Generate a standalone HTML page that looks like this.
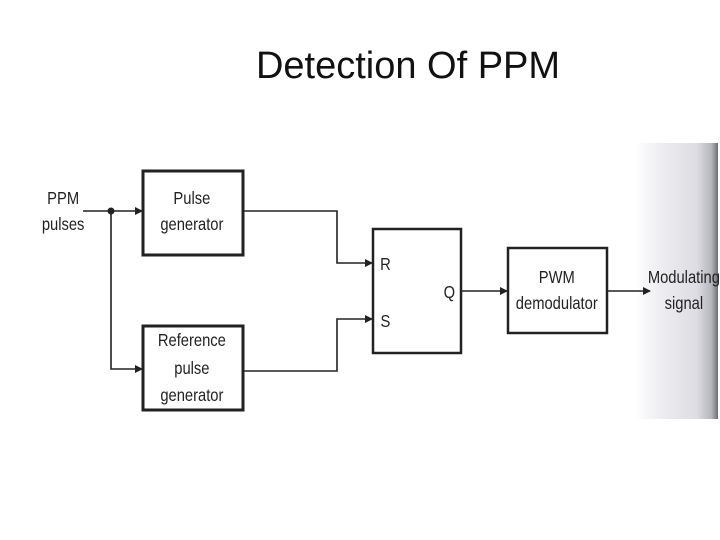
<!DOCTYPE html>
<html><head><style>
body{margin:0;width:720px;height:540px;background:#fff;overflow:hidden;position:relative;font-family:"Liberation Sans",sans-serif}
.t{position:absolute;left:0;width:816px;top:45px;text-align:center;font-size:38px;color:#111}
</style></head><body>
<div style="position:absolute;left:635px;top:143px;width:83px;height:276px;background:linear-gradient(to right,#fff 0%,#eeeef2 30%,#dcdce2 75%,#b5b5bc 92%,#77777f 99%,#666 100%)"></div>
<div class="t">Detection Of PPM</div>
<svg width="720" height="540" style="position:absolute;left:0;top:0">
<defs><marker id="a" markerWidth="8" markerHeight="8" refX="7" refY="4" orient="auto" markerUnits="userSpaceOnUse"><path d="M0,0 L8,4 L0,8z" fill="#222"/></marker></defs>
<g stroke="#222" stroke-width="1.6" fill="none">
<rect x="143" y="171" width="100" height="84" stroke-width="3"/>
<rect x="143" y="326" width="100" height="84" stroke-width="3"/>
<rect x="373" y="229" width="88" height="124" stroke-width="2.5"/>
<rect x="508" y="248" width="99" height="85" stroke-width="2.5"/>
<line x1="83" y1="211" x2="142" y2="211" marker-end="url(#a)"/>
<polyline points="111,211 111,369 142,369" marker-end="url(#a)"/>
<polyline points="243,211 337,211 337,263 372,263" marker-end="url(#a)"/>
<polyline points="243,371 337,371 337,319 372,319" marker-end="url(#a)"/>
<line x1="461" y1="291" x2="507" y2="291" marker-end="url(#a)"/>
<line x1="607" y1="291" x2="650" y2="291" marker-end="url(#a)"/>
</g>
<circle cx="111" cy="211" r="3.5" fill="#222"/>
<g font-family="Liberation Sans,sans-serif" font-size="18" fill="#222" text-anchor="middle" transform="scale(0.82,1)">
<text x="77" y="204">PPM</text><text x="77" y="230">pulses</text>
<text x="234" y="204">Pulse</text><text x="234" y="230">generator</text>
<text x="234" y="346">Reference</text><text x="234" y="374">pulse</text><text x="234" y="401">generator</text>
<text x="470" y="270">R</text><text x="470" y="327">S</text><text x="548" y="298">Q</text>
<text x="679" y="283">PWM</text><text x="679" y="309">demodulator</text>
<text x="834" y="283">Modulating</text><text x="834" y="309">signal</text>
</g>
</svg>
</body></html>
